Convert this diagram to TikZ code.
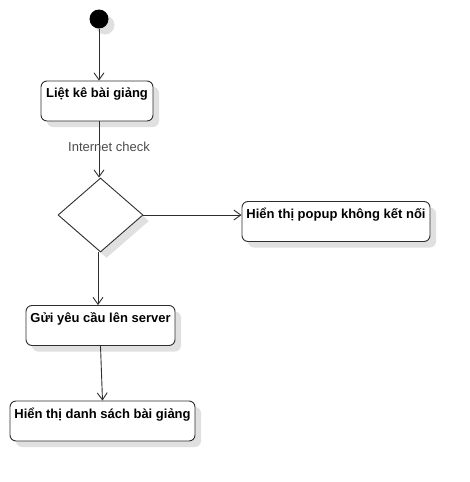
\documentclass[tikz,border=0pt]{standalone}
\usepackage{fontspec}
\setmainfont{Liberation Sans}
\usetikzlibrary{arrows.meta,shapes.geometric,shadows}
\begin{document}
\begin{tikzpicture}[x=1pt,y=-1pt,
  lin/.style={draw=black!82, line width=0.9pt},
  shad/.style={drop shadow={fill=black!12, opacity=1, shadow xshift=6pt, shadow yshift=-6pt}},
  actbox/.style={lin, shad, fill=white, rounded corners=6pt, minimum height=40pt, inner sep=0pt},
  boxtext/.style={font=\bfseries\fontsize{13}{15}\selectfont, anchor=north, inner sep=0pt, yshift=-7pt},
  conn/.style={lin, -{Straight Barb[length=7pt, width=10pt, line width=0.9pt]}}
]
\useasboundingbox (0,0) rectangle (470,482);
\node[circle, fill=black, minimum size=19pt, inner sep=0pt, shad] (start) at (99,19) {};
\node[actbox, minimum width=112pt, label={[boxtext]north:Liệt kê bài giảng}] (b1) at (97,101) {};
\node[diamond, lin, shad, fill=white, minimum width=85pt, minimum height=74pt, inner sep=0pt] (d) at (100.5,215) {};
\node[actbox, minimum width=188pt, label={[boxtext]north:Hiển thị popup không kết nối}] (b2) at (336,221.5) {};
\node[actbox, minimum width=149pt, label={[boxtext]north:Gửi yêu cầu lên server}] (b3) at (100.5,325.5) {};
\node[actbox, minimum width=185pt, label={[boxtext]north:Hiển thị danh sách bài giảng}] (b4) at (102.5,421) {};
\draw[conn] (start.south) -- (start.south |- b1.north);
\draw[conn] (b1.south -| 99,0) -- node[pos=0.45, font=\fontsize{13}{15}\selectfont, text=black!70, xshift=10pt]{Internet check} (d.north -| 99,0);
\draw[conn] (d.east) -- (d.east -| b2.west);
\draw[conn] (d.south -| 98,0) -- (b3.north -| 98,0);
\draw[conn] (b3.south) -- (b4.north);
\end{tikzpicture}
\end{document}
